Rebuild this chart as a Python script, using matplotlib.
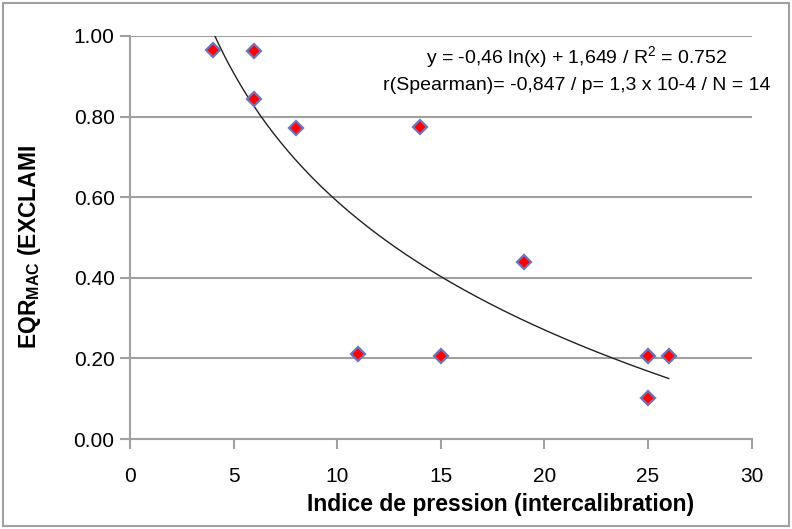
import numpy as np
import matplotlib
matplotlib.use("Agg")
import matplotlib.pyplot as plt
from matplotlib.patches import Rectangle

plt.rcParams['font.family'] = ['Liberation Sans', 'DejaVu Sans']
plt.rcParams['mathtext.fontset'] = 'custom'
plt.rcParams['mathtext.rm'] = 'Liberation Sans'
plt.rcParams['mathtext.bf'] = 'Liberation Sans:bold'

# data
pression = [4, 6, 6, 8, 14, 11, 15, 19, 25, 26, 25]
eqr = [0.965, 0.963, 0.844, 0.772, 0.774, 0.211, 0.206, 0.439, 0.206, 0.206, 0.102]

# log trend line given on the chart
coef_a = -0.46
coef_b = 1.649
x_start, x_end = 4.07, 26

grey = '#a0a0a0'

fig = plt.figure(figsize=(7.92, 5.29), dpi=100)
ax = fig.add_axes([0.164, 0.170, 0.785, 0.762])

xs = np.linspace(x_start, x_end, 200)
ax.plot(xs, coef_a * np.log(xs) + coef_b, color='#222222', lw=1.0, zorder=3)
ax.plot(pression, eqr, linestyle='none', marker='D', markersize=7,
        markerfacecolor='red', markeredgecolor='#7272b8', markeredgewidth=1.6, zorder=4)

ax.set_xlim(0, 30)
ax.set_ylim(0, 1.0)
ax.set_xticks(range(0, 31, 5))
ax.set_yticks(np.arange(0, 1.01, 0.2))
ax.set_yticklabels(['%.2f' % v for v in np.arange(0, 1.01, 0.2)])
ax.yaxis.grid(True, color=grey, lw=1.5)
ax.set_axisbelow(True)
for s in ['top', 'right']:
    ax.spines[s].set_visible(False)
for s in ['left', 'bottom']:
    ax.spines[s].set_color(grey)
    ax.spines[s].set_linewidth(1.5)
ax.tick_params(axis='both', direction='out', length=7, width=1.5, color=grey,
               labelsize=15)
ax.tick_params(axis='x', pad=13)
ax.tick_params(axis='y', pad=4)

ax.set_xlabel('Indice de pression (intercalibration)', fontsize=16.5, fontweight='bold', labelpad=8)
ax.xaxis.set_label_coords(0.596, -0.135)
fig.text(30 / 792, 1 - 349 / 529, r'EQR$_{\mathbf{MAC}}$ (EXCLAMI', rotation=90,
         ha='center', va='bottom', fontsize=16.5, fontweight='bold')

ax.text(0.719, 0.945, 'y = -0,46 ln(x) + 1,649 / R$^2$ = 0.752', transform=ax.transAxes,
        ha='center', va='center', fontsize=14)
ax.text(0.719, 0.878, 'r(Spearman)= -0,847 / p= 1,3 x 10-4 / N = 14', transform=ax.transAxes,
        ha='center', va='center', fontsize=14)

fig.patches.append(Rectangle((0.004, 0.006), 0.992, 0.988, transform=fig.transFigure,
                             fill=False, edgecolor=grey, lw=1.5))

fig.savefig('out.png', dpi=100)
